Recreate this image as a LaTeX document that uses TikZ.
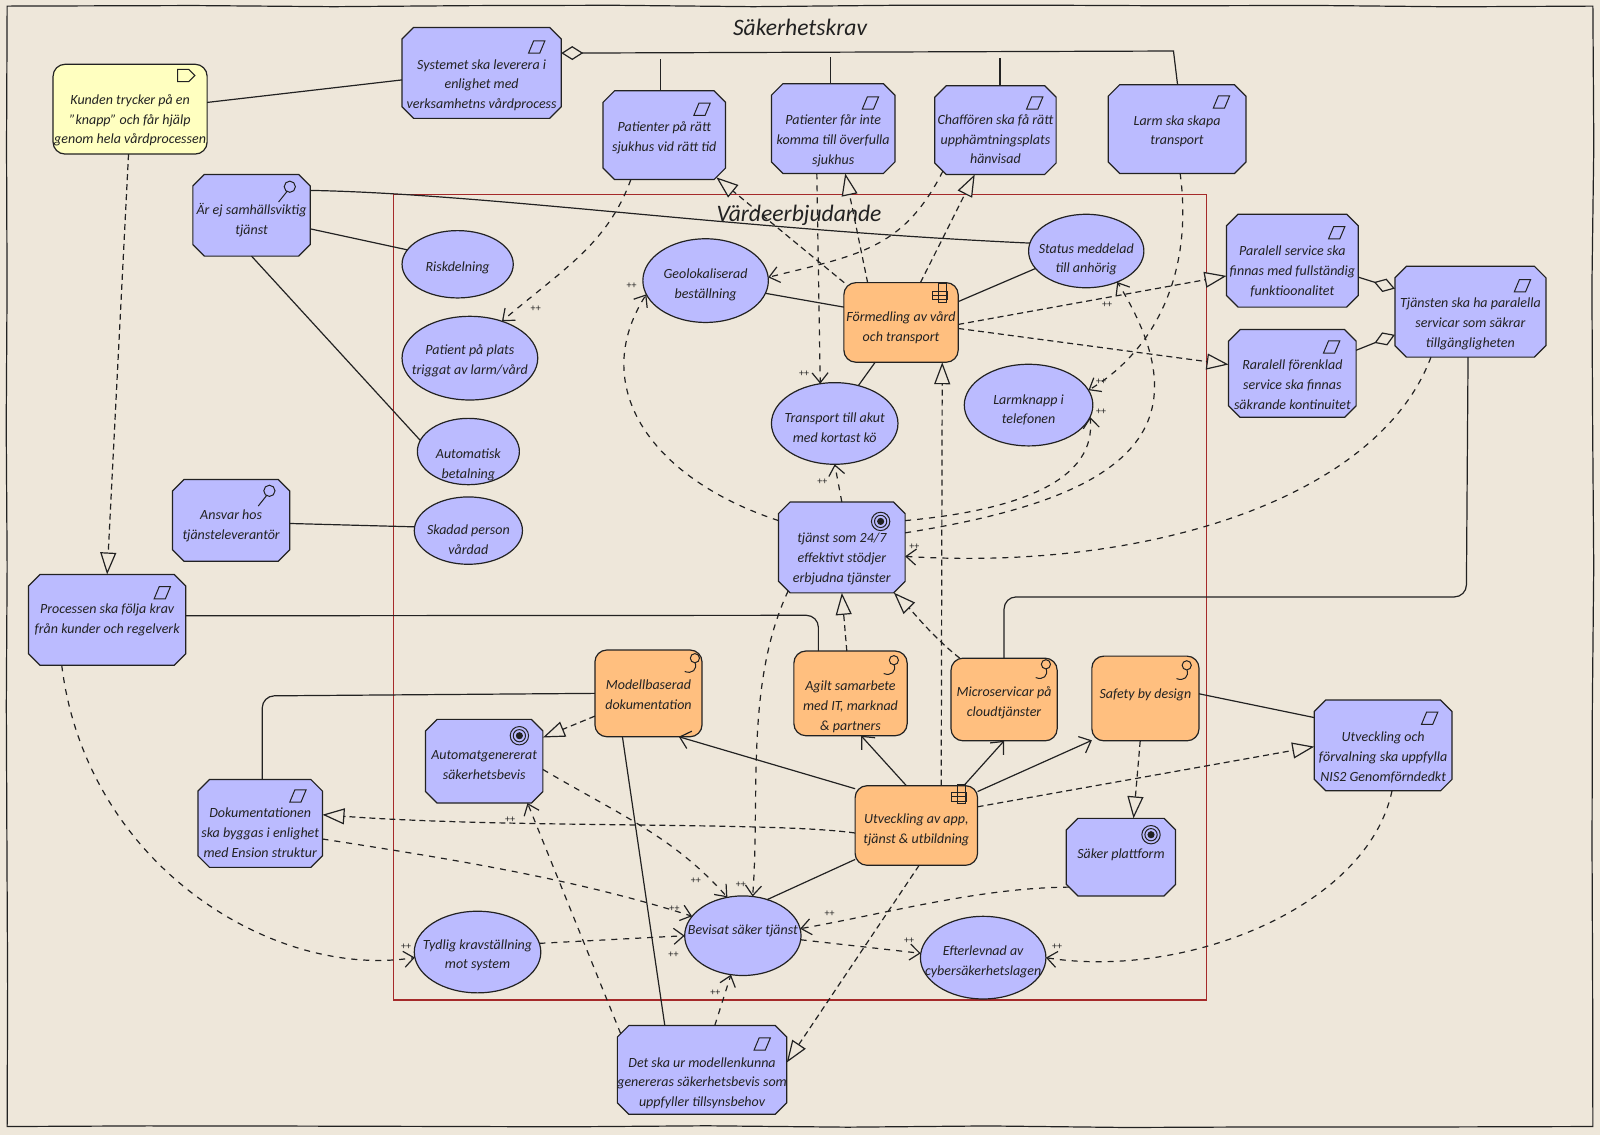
\documentclass[tikz,border=0pt]{standalone}
\usepackage{fontspec}
\setmainfont{Carlito}
\usetikzlibrary{arrows.meta,positioning,shapes.geometric,shapes.misc,decorations.pathmorphing}
\definecolor{paper}{HTML}{EEE7DA}
\definecolor{reqblue}{HTML}{BBBBFF}
\definecolor{wrkorange}{HTML}{FFBF7F}
\definecolor{drvyellow}{HTML}{FFFFC0}
\definecolor{framered}{HTML}{A52A2A}
\definecolor{ink}{HTML}{222222}
\newcommand{\sh}[2]{\raisebox{\dimexpr-#1-1.75pt\relax}[0pt][0pt]{\makebox[0pt]{\begin{tabular}{@{}c@{}}#2\end{tabular}}}}
\tikzset{
 reqicon/.pic={\draw[ink,line width=.5pt] (-8,6)--(-3,-6)--(8,-6)--(3,6)--cycle;},
 flagicon/.pic={\draw[ink,line width=.5pt] (-9,-5)--(2,-5)--(8,1)--(2,7)--(-9,7)--cycle;},
 lensicon/.pic={\draw[ink,line width=.5pt] (3,-4) circle (5.5) (0,1)--(-8,11);},
 targeticon/.pic={\draw[ink,line width=.5pt] (0,0) circle (9) (0,0) circle (6);\fill[ink] (0,0) circle (3.5);},
 ropeicon/.pic={\draw[ink,line width=.5pt] (3,-5) circle (4.5) (3,-1) .. controls (6,6) and (0,11) .. (-7,8);},
 gridicon/.pic={\draw[ink,line width=.5pt] (-9,-2) rectangle (6,6) (-3,-10) rectangle (5,8) (-9,2)--(6,2);}
}
\begin{document}
\begin{tikzpicture}[x=0.5102pt,y=-0.5102pt,line width=.6pt,
 every node/.style={align=center,inner sep=0pt,outer sep=0pt,font=\fontsize{7}{9.9}\selectfont\itshape,text=ink},
 sz/.style 2 args={minimum width=#1*0.5102pt,minimum height=#2*0.5102pt},
 rz/.style 2 args={inner xsep=#1*0.2551pt-2.75pt,inner ysep=#2*0.2551pt-3pt},
 reqbox/.style={draw=ink,fill=reqblue,chamfered rectangle,chamfered rectangle xsep=2.75pt,chamfered rectangle ysep=3pt},
 wrkbox/.style={draw=ink,fill=wrkorange,rounded corners=6pt},
 drvbox/.style={draw=ink,fill=drvyellow,rounded corners=6pt},
 oval/.style={draw=ink,fill=reqblue,ellipse},
 title/.style={font=\fontsize{11.8}{15}\selectfont\itshape},
 pp/.style={font=\fontsize{5}{6}\selectfont},
 assoc/.style={draw=ink},
 part/.style={draw=ink,{Diamond[fill=paper,length=11pt,width=7pt]}-},
 real/.style={draw=ink,dash pattern=on 3pt off 2pt,-{Triangle[open,fill=paper,length=11pt,width=8pt]}},
 infl/.style={draw=ink,dash pattern=on 3pt off 3pt,-{Straight Barb[length=5pt,width=8pt]}},
 flow/.style={draw=ink,-{Straight Barb[length=5pt,width=9pt]}}]
\fill[paper] (0,0) rectangle (1568,1112);
\useasboundingbox (0,0) rectangle (1568,1112);
\draw[ink,decorate,decoration={random steps,segment length=70pt,amplitude=.5pt}] (7,6) rectangle (1561,1104);
\draw[framered] (386,191) rectangle (1182,980);
\node[title] (kravtitle) at (784,27) {Säkerhetskrav};
\node[title] (vardetitle) at (783,211) {Värdeerbjudande};

\node[reqbox,rz={156}{89}] (sys) at (472,71.5) {\sh{6pt}{Systemet ska leverera i\\enlighet med\\verksamhetns vårdprocess}};
\node[drvbox,sz={151}{88}] (kund) at (127.5,107) {\sh{5.5pt}{Kunden trycker på en\\"knapp" och får hjälp\\genom hela vårdprocessen}};
\node[reqbox,rz={120}{87}] (pat1) at (651,132.5) {\sh{1pt}{Patienter på rätt\\sjukhus vid rätt tid}};
\node[reqbox,rz={121}{88}] (pat2) at (816.5,126) {\sh{6pt}{Patienter får inte\\komma till överfulla\\sjukhus}};
\node[reqbox,rz={119}{87}] (chauf) at (975.5,127.5) {\sh{5pt}{Chaffören ska få rätt\\upphämtningsplats\\hänvisad}};
\node[reqbox,rz={135}{87}] (larm) at (1153.5,126.5) {\sh{1pt}{Larm ska skapa\\transport}};
\node[reqbox,rz={115}{80}] (ej) at (246.5,211) {\sh{2.5pt}{Är ej samhällsviktig\\tjänst}};
\node[reqbox,rz={115}{80}] (ansvar) at (226.5,510) {\sh{2.5pt}{Ansvar hos\\tjänsteleverantör}};
\node[reqbox,rz={154}{89}] (process) at (105,607.5) {\sh{0pt}{Processen ska följa krav\\från kunder och regelverk}};
\node[reqbox,rz={129}{91}] (para) at (1266.5,255.5) {\sh{5.5pt}{Paralell service ska\\finnas med fullständig\\funktioonalitet}};
\node[reqbox,rz={125}{86}] (rara) at (1266.5,366) {\sh{6pt}{Raralell förenklad\\service ska finnas\\säkrande kontinuitet}};
\node[reqbox,rz={148}{89}] (tjan) at (1441,305.5) {\sh{6pt}{Tjänsten ska ha paralella\\servicar som säkrar\\tillgängligheten}};
\node[reqbox,rz={124}{89}] (tjanst) at (825,536.5) {\sh{5.5pt}{tjänst som 24/7\\effektivt stödjer\\erbjudna tjänster}};
\node[reqbox,rz={115}{82}] (automat) at (474.5,746) {\sh{2pt}{Automatgenererat\\säkerhetsbevis}};
\node[reqbox,rz={122}{86}] (dok) at (255,807) {\sh{5pt}{Dokumentationen\\ska byggas i enlighet\\med Ension struktur}};
\node[reqbox,rz={166}{87}] (det) at (688,1048.5) {\sh{6.5pt}{Det ska ur modellenkunna\\genereras säkerhetsbevis som\\uppfyller tillsynsbehov}};
\node[reqbox,rz={135}{89}] (utv) at (1355.5,730.5) {\sh{6pt}{Utveckling och\\förvalning ska uppfylla\\NIS2 Genomförndedkt}};
\node[reqbox,rz={107}{76}] (saker) at (1098.5,840) {\sh{-1.5pt}{Säker plattform}};

\node[wrkbox,sz={112}{78}] (form) at (883,316) {\sh{2.5pt}{Förmedling av vård\\och transport}};
\node[wrkbox,sz={105}{85}] (modell) at (635.5,679.5) {\sh{1pt}{Modellbaserad\\dokumentation}};
\node[wrkbox,sz={111}{83}] (agilt) at (833.5,679.5) {\sh{6.5pt}{Agilt samarbete\\med IT, marknad\\\& partners}};
\node[wrkbox,sz={104}{81}] (micro) at (984,685.5) {\sh{1.5pt}{Microservicar på\\cloudtjänster}};
\node[wrkbox,sz={105}{83}] (safety) at (1122.5,684.5) {\sh{-2pt}{Safety by design}};
\node[wrkbox,sz={120}{78}] (utvapp) at (898,809) {\sh{2pt}{Utveckling av app,\\tjänst \& utbildning}};

\node[oval,sz={113}{72}] (status) at (1064.5,246) {\sh{4pt}{Status meddelad\\till anhörig}};
\node[oval,sz={109}{66}] (risk) at (448.5,259) {\sh{1.5pt}{Riskdelning}};
\node[oval,sz={133}{82}] (patpl) at (460.5,351) {\sh{1pt}{Patient på plats\\triggat av larm/vård}};
\node[oval,sz={100}{65}] (autob) at (459,442.5) {\sh{6.5pt}{Automatisk\\betalning}};
\node[oval,sz={106}{66}] (skadad) at (459,520) {\sh{5pt}{Skadad person\\vårdad}};
\node[oval,sz={123}{82}] (geo) at (691.5,275) {\sh{2pt}{Geolokaliserad\\beställning}};
\node[oval,sz={124}{80}] (transp) at (818,415) {\sh{2.5pt}{Transport till akut\\med kortast kö}};
\node[oval,sz={126}{80}] (larmk) at (1008,397) {\sh{2.5pt}{Larmknapp i\\telefonen}};
\node[oval,sz={124}{80}] (tydlig) at (468,933) {\sh{1.5pt}{Tydlig kravställning\\mot system}};
\node[oval,sz={114}{78}] (bevis) at (728,917) {\sh{-2.5pt}{Bevisat säker tjänst}};
\node[oval,sz={123}{81}] (efter) at (963.5,938.5) {\sh{2pt}{Efterlevnad av\\cybersäkerhetslagen}};

\foreach \ix/\iy in {526/46,688/107,853/101,1014/101,1197/100,159/581,1310/228,1305/340,1492/280,292/780,747/1023,1401/704}
 \pic at (\ix,\iy) {reqicon};
\pic at (183,73) {flagicon};
\foreach \ix/\iy in {281/187,261/485}
 \pic at (\ix,\iy) {lensicon};
\foreach \ix/\iy in {863/511,509/721,1128/818}
 \pic at (\ix,\iy) {targeticon};
\foreach \ix/\iy in {678/650,873/652,1022/656,1160/657}
 \pic at (\ix,\iy) {ropeicon};
\foreach \ix/\iy in {923/288,941/779}
 \pic at (\ix,\iy) {gridicon};

\coordinate (krav1) at (1150,50);
\coordinate (krav2) at (647,58);
\coordinate (krav3) at (814,56);
\coordinate (krav4) at (980,57);
\coordinate (proc1) at (802,603);
\coordinate (dok1) at (257,682);
\coordinate (tjan1) at (1437,585);

\draw[assoc] (kund.5)--(sys.185);
\draw[part] (sys.14)--(krav1)--(larm.north -| 1154,0);
\draw[assoc] (krav2)--(krav2 |- pat1.north);
\draw[assoc] (krav3)--(krav3 |- pat2.north);
\draw[assoc] (krav4)--(krav4 |- chauf.north);
\draw[assoc] (ej.23) .. controls (480,190) and (720,225) .. (status.172);
\draw[assoc] (ej.-13)--(risk.164);
\draw[assoc] (ej.south)--(autob.167);
\draw[assoc] (ansvar.-3)--(skadad.176);
\draw[assoc,rounded corners=6pt] (process.3)--(proc1)--(proc1 |- agilt.north);
\draw[assoc,rounded corners=6pt] (modell.west)--(dok1)--(dok1 |- dok.north);
\draw[assoc] (modell.239)--(det.130);
\draw[assoc] (geo.-12)--(form.165);
\draw[assoc] (form.20)--(status.199);
\draw[assoc] (form.237)--(transp.58);
\draw[assoc,rounded corners=6pt] (tjan.267)--(tjan1)--(tjan1 -| micro.north)--(micro.north);
\draw[assoc] (safety.5)--(utv.158);
\draw[assoc] (utvapp.209)--(bevis.56);
\draw[flow] (utvapp.149)--(modell.-55);
\draw[flow] (utvapp.104)--(agilt.-76);
\draw[flow] (utvapp.40)--(micro.south);
\draw[flow] (utvapp.29)--(safety.218);
\draw[part] (tjan.163)--(para.-14);
\draw[part] (tjan.197)--(rara.20);

\draw[real] (form.145)--(pat1.-39);
\draw[real] (form.130)--(pat2.-75);
\draw[real] (form.64)--(chauf.245);
\draw[real] (form.-2)--(para.193);
\draw[real] (form.-6)--(rara.172);
\draw[real] (utvapp.58)--(form.-44);
\draw[real] (utvapp.187) .. controls (760,805) and (500,812) .. (dok.8);
\draw[real] (modell.203)--(automat.22);
\draw[real] (agilt.95)--(tjanst.south);
\draw[real] (micro.137) .. controls (915,625) and (895,600) .. (tjanst.-41);
\draw[real] (safety.263)--(saker.72);
\draw[real] (utvapp.17)--(utv.181);
\draw[real] (utvapp.-86)--(det.5);
\draw[real] (kund.268)--(process.north);

\draw[infl] (pat1.233) .. controls (595,240) and (550,265) .. (patpl.49);
\draw[infl] (pat2.250)--(transp.110);
\draw[infl] (chauf.218) .. controls (885,245) and (840,250) .. (geo.3);
\draw[infl] (larm.-86) .. controls (1170,270) and (1130,345) .. (larmk.14);
\draw[infl] (tjanst.157) .. controls (640,470) and (575,380) .. (geo.193);
\draw[infl] (tjanst.north)--(transp.south);
\draw[infl] (tjanst.23) .. controls (1000,500) and (1075,470) .. (larmk.-11);
\draw[infl] (tjanst.13) .. controls (1090,490) and (1190,430) .. (status.-45);
\draw[infl] (tjan.229) .. controls (1350,490) and (1120,560) .. (tjanst.-8);
\draw[infl] (process.225) .. controls (85,850) and (270,960) .. (tydlig.185);
\draw[infl] (dok.-14) .. controls (430,840) and (560,860) .. (bevis.159);
\draw[infl] (tydlig.8)--(bevis.180);
\draw[infl] (automat.-8) .. controls (610,800) and (660,820) .. (bevis.112);
\draw[infl] (tjanst.219) .. controls (730,670) and (745,780) .. (bevis.76);
\draw[infl] (det.74)--(bevis.253);
\draw[infl] (det.156)--(automat.-44);
\draw[infl] (saker.210) .. controls (960,870) and (870,895) .. (bevis.7);
\draw[infl] (bevis.-4)--(efter.176);
\draw[infl] (utv.-79) .. controls (1340,890) and (1160,960) .. (efter.0);

\foreach \px/\py [count=\i] in {525/303,788/366,1079/374,619/280,806/472,1079/404,1085/299,896/536,398/928,661/891,660/936,682/863,726/867,701/973,500/803,813/895,891/922,1036/928}
 \node[pp] (plus\i) at (\px,\py) {++};
\end{tikzpicture}
\end{document}
